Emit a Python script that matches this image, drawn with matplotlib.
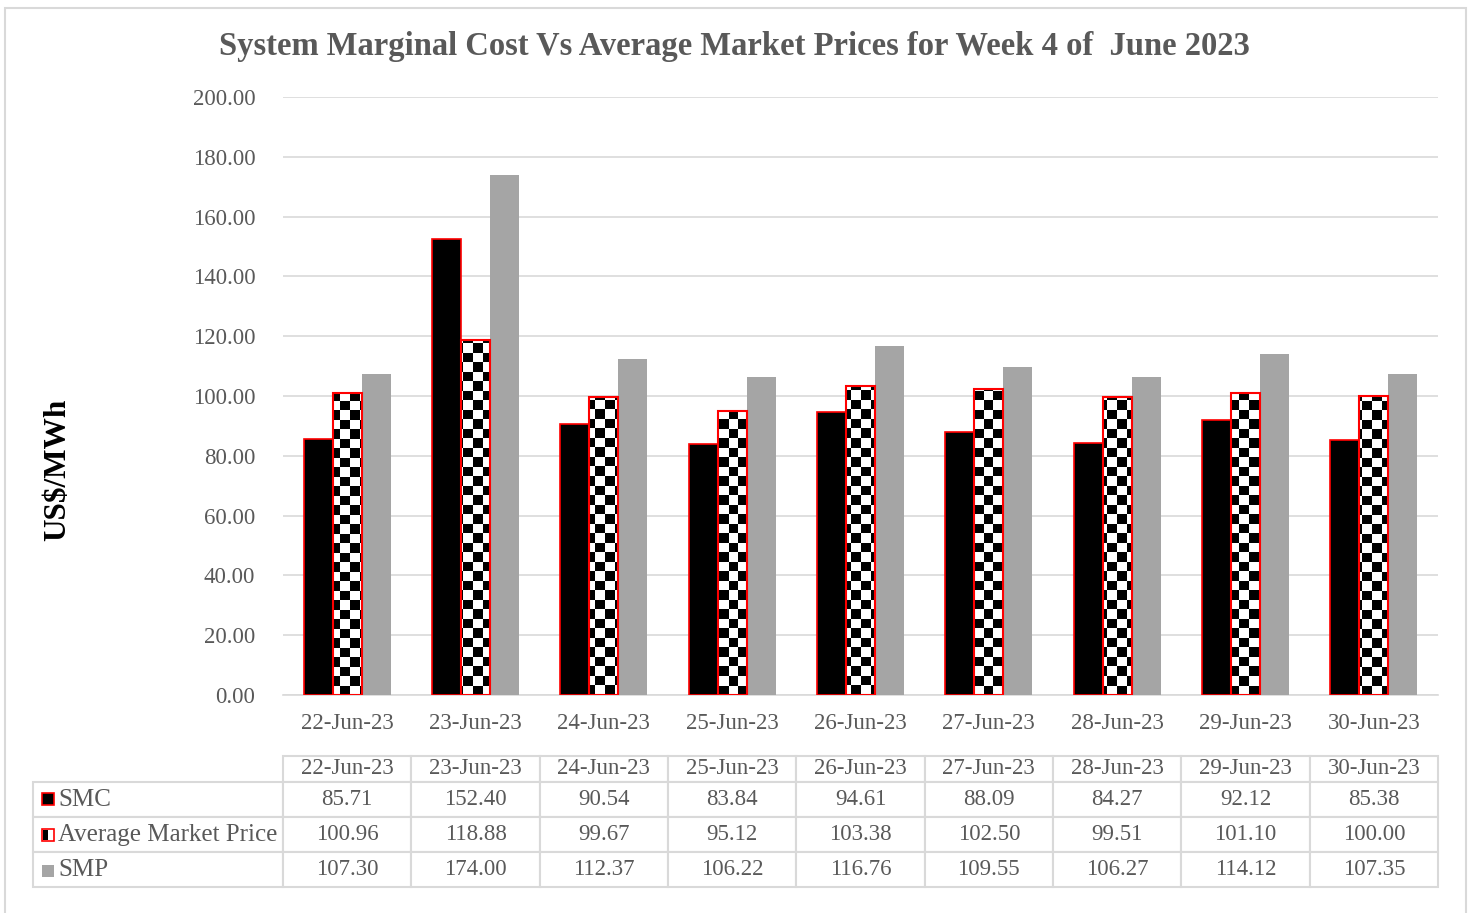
import numpy as np
import matplotlib
matplotlib.use('Agg')
import matplotlib.pyplot as plt
from matplotlib.patches import Rectangle

dates = ['22-Jun-23', '23-Jun-23', '24-Jun-23', '25-Jun-23', '26-Jun-23',
         '27-Jun-23', '28-Jun-23', '29-Jun-23', '30-Jun-23']
smc = [85.71, 152.40, 90.54, 83.84, 94.61, 88.09, 84.27, 92.12, 85.38]
avg_price = [100.96, 118.88, 99.67, 95.12, 103.38, 102.50, 99.51, 101.10, 100.00]
smp = [107.30, 174.00, 112.37, 106.22, 116.76, 109.55, 106.27, 114.12, 107.35]
series_names = ['SMC', 'Average Market Price', 'SMP']

W, H = 1471, 913
plt.rcParams['font.family'] = ['Liberation Serif', 'DejaVu Serif']
grey_txt = '#595959'
grid_c = '#D9D9D9'

fig = plt.figure(figsize=(W / 100, H / 100), dpi=100)

# plot area in pixels
ax_l, ax_r, ax_t, ax_b = 283, 1438, 97, 695
pw, ph = ax_r - ax_l, ax_b - ax_t
ax = fig.add_axes([ax_l / W, 1 - ax_b / H, pw / W, ph / H])

x = np.arange(len(dates))
bw = 0.226

ax.bar(x - bw, smc, bw, color='black', edgecolor='red', linewidth=1.2, zorder=3)
avg_bars = ax.bar(x, avg_price, bw, facecolor='none', edgecolor='red', linewidth=1.5, zorder=4)
ax.bar(x + bw, smp, bw, color='#A5A5A5', zorder=3)

# checkerboard fill for the average market price bars
sq = 9.5
nrows = int(ph / sq) + 1
ncols = int(pw / sq) + 1
checker = np.indices((nrows, ncols)).sum(axis=0) % 2
for b in avg_bars:
    im = ax.imshow(checker, cmap='gray', interpolation='nearest', aspect='auto',
                   extent=(-0.5, len(dates) - 0.5, 0, 200), origin='lower', zorder=3.5)
    im.set_clip_path(b)
ax.set_xlim(-0.5, len(dates) - 0.5)
ax.set_ylim(0, 200)

ax.set_yticks(np.arange(0, 201, 20))
ax.set_yticklabels([f'{v:.2f}' for v in np.arange(0, 201, 20)])
ax.set_xticks(x)
ax.set_xticklabels(dates)
ax.tick_params(axis='both', length=0, labelsize=16.5, colors=grey_txt)
ax.tick_params(axis='y', pad=20)
ax.tick_params(axis='x', pad=13)
ax.yaxis.grid(True, color=grid_c, linewidth=1.2, zorder=0)
ax.set_axisbelow(True)
for s in ['top', 'right', 'left']:
    ax.spines[s].set_visible(False)
ax.spines['bottom'].set_color(grid_c)
ax.spines['bottom'].set_linewidth(1.2)

# data table (bbox covers the value grid only; row labels sit to its left)
tb_t, tb_b = 756, 887
cell_text = [[f'{v:.2f}' for v in smc],
             [f'{v:.2f}' for v in avg_price],
             [f'{v:.2f}' for v in smp]]
tbl = ax.table(cellText=cell_text, rowLabels=series_names, colLabels=dates,
               cellLoc='center', rowLoc='left',
               bbox=[0, (ax_b - tb_b) / ph, 1, (tb_b - tb_t) / ph])
tbl.auto_set_font_size(False)
tbl.set_fontsize(16.5)
tbl._autoColumns = []  # keep the fixed row-label column width
for (r, c), cell in tbl.get_celld().items():
    cell.set_edgecolor(grid_c)
    cell.set_linewidth(1.5)
    cell.get_text().set_color(grey_txt)
    cell.set_width(250 / pw if c == -1 else 1 / 9)
    cell.set_height((26 if r == 0 else 35) / ph)
    if c == -1:
        cell.get_text().set_fontsize(18)

# legend keys in the table row labels
key_y = [799, 835, 871]
key_style = [dict(facecolor='black', edgecolor='red'),
             dict(facecolor='white', edgecolor='red'),
             dict(facecolor='#A5A5A5', edgecolor='none')]
for ky, st in zip(key_y, key_style):
    fig.add_artist(Rectangle((42 / W, 1 - (ky + 6) / H), 12 / W, 12 / H,
                             transform=fig.transFigure, linewidth=1.2, **st))
fig.add_artist(Rectangle((43 / W, 1 - (key_y[1] + 5) / H), 5 / W, 10 / H,
                         transform=fig.transFigure, facecolor='black', edgecolor='none'))

fig.text(0.4993, 1 - 46 / H,
         'System Marginal Cost Vs Average Market Prices for Week 4 of  June 2023',
         ha='center', va='center', fontsize=23.5, fontweight='bold', color=grey_txt)
fig.text(58 / W, 1 - 470 / H, 'US$/MWh', rotation=90, ha='center', va='center',
         fontsize=22.5, fontweight='bold', color='black')

fig.add_artist(Rectangle((5 / W, -0.05), 1461 / W, 1 - 8 / H + 0.05,
                         transform=fig.transFigure, facecolor='none',
                         edgecolor=grid_c, linewidth=1.5))

fig.savefig('out.png', dpi=100)
